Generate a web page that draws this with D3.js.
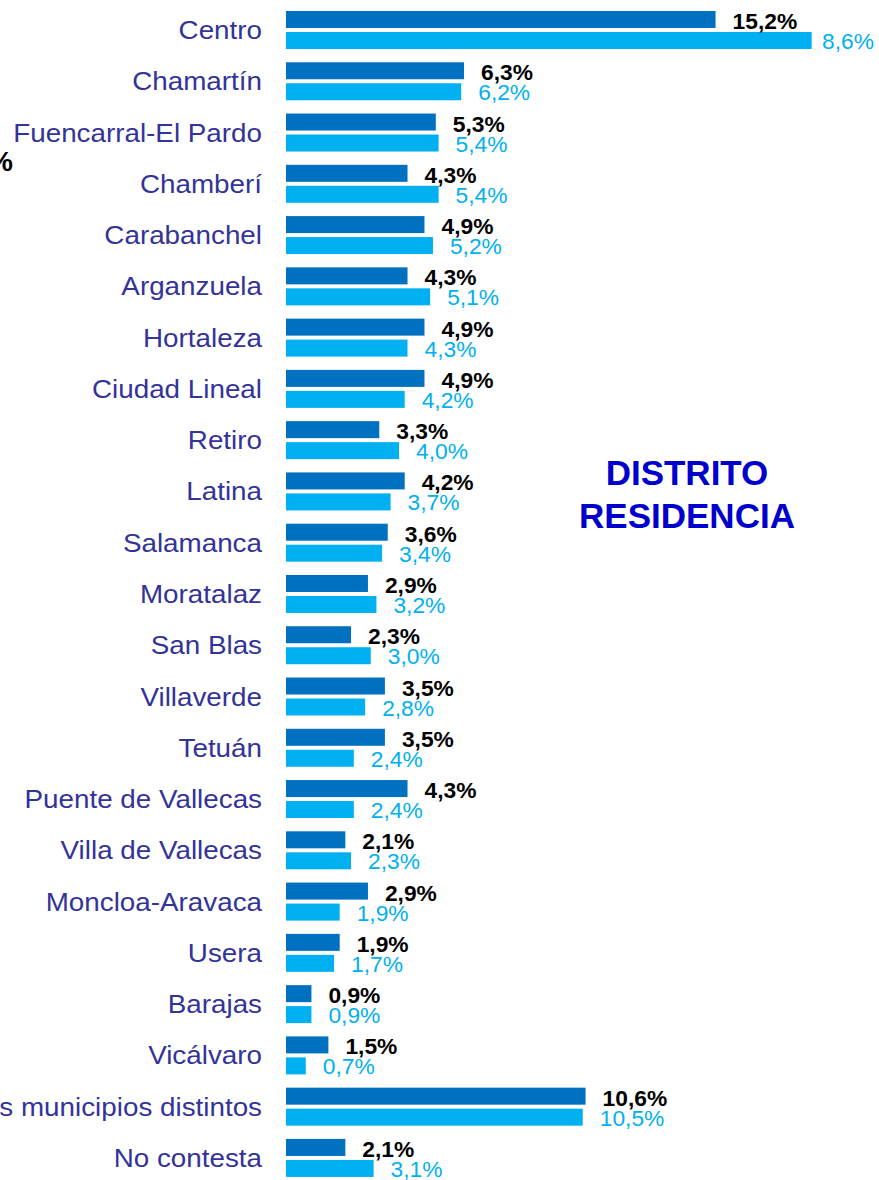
<!DOCTYPE html>
<html>
<head>
<meta charset="utf-8">
<script src="https://cdn.jsdelivr.net/npm/d3@7"></script>
<style>
  html, body { margin: 0; padding: 0; background: #fff; }
  svg { display: block; }
  text { font-family: "Liberation Sans", Arial, Helvetica, sans-serif; }
</style>
</head>
<body>
<svg id="chart" width="879" height="1180"></svg>
<script>
// ---- DATA ----
const categories = [
  "Centro", "Chamartín", "Fuencarral-El Pardo", "Chamberí", "Carabanchel",
  "Arganzuela", "Hortaleza", "Ciudad Lineal", "Retiro", "Latina", "Salamanca",
  "Moratalaz", "San Blas", "Villaverde", "Tetuán", "Puente de Vallecas",
  "Villa de Vallecas", "Moncloa-Aravaca", "Usera", "Barajas", "Vicálvaro",
  "Otros municipios distintos", "No contesta"
];
const seriesDark = [15.2, 6.3, 5.3, 4.3, 4.9, 4.3, 4.9, 4.9, 3.3, 4.2, 3.6,
  2.9, 2.3, 3.5, 3.5, 4.3, 2.1, 2.9, 1.9, 0.9, 1.5, 10.6, 2.1];
const seriesLight = [18.6, 6.2, 5.4, 5.4, 5.2, 5.1, 4.3, 4.2, 4.0, 3.7, 3.4,
  3.2, 3.0, 2.8, 2.4, 2.4, 2.3, 1.9, 1.7, 0.9, 0.7, 10.5, 3.1];
// value labels as printed in the picture
const labelsDark = ["15,2%", "6,3%", "5,3%", "4,3%", "4,9%", "4,3%", "4,9%", "4,9%",
  "3,3%", "4,2%", "3,6%", "2,9%", "2,3%", "3,5%", "3,5%", "4,3%", "2,1%", "2,9%",
  "1,9%", "0,9%", "1,5%", "10,6%", "2,1%"];
const labelsLight = ["8,6%", "6,2%", "5,4%", "5,4%", "5,2%", "5,1%", "4,3%", "4,2%",
  "4,0%", "3,7%", "3,4%", "3,2%", "3,0%", "2,8%", "2,4%", "2,4%", "2,3%", "1,9%",
  "1,7%", "0,9%", "0,7%", "10,5%", "3,1%"];
const titleLines = ["DISTRITO", "RESIDENCIA"];
const seriesKeys = ["dark", "light"];

// ---- LAYOUT ----
const svg = d3.select("#chart");
const colors = { dark: "#0070C0", light: "#00B0F0" };
const catColor = "#333399";

const step = 51.27, pIn = 0.259;
const yTop = 11 - step * pIn / 2;
const y = d3.scaleBand()
  .domain(categories)
  .range([yTop, yTop + categories.length * step])
  .paddingInner(pIn)
  .paddingOuter(pIn / 2);

const ySub = d3.scaleBand()
  .domain(seriesKeys)
  .range([0, y.bandwidth()])
  .paddingInner(0.19);

const x = d3.scaleLinear().domain([0, 10]).range([286, 286 + 282.6]);

const rows = categories.map((c, i) => ({
  cat: c,
  values: [
    { key: "dark", v: seriesDark[i], label: labelsDark[i] },
    { key: "light", v: seriesLight[i], label: labelsLight[i] }
  ]
}));

const g = svg.append("g");
const row = g.selectAll("g.row").data(rows).join("g")
  .attr("class", "row")
  .attr("transform", d => `translate(0,${y(d.cat)})`);

row.selectAll("rect").data(d => d.values).join("rect")
  .attr("x", x(0))
  .attr("y", d => ySub(d.key))
  .attr("width", d => x(d.v) - x(0))
  .attr("height", ySub.bandwidth())
  .attr("fill", d => colors[d.key]);

const labelX = d => Math.min(x(d.v) + 17, 822);
row.selectAll("text.val").data(d => d.values).join("text")
  .attr("class", "val")
  .attr("transform", d => `translate(${labelX(d)},${ySub(d.key) + ySub.bandwidth() + (d.key === "dark" ? 1 : 0)}) scale(1.06,1)`)
  .attr("font-size", 21.5)
  .attr("font-weight", d => d.key === "dark" ? "bold" : "normal")
  .attr("fill", d => d.key === "dark" ? "#000" : colors.light)
  .text(d => d.label);

// category axis labels
row.append("text")
  .attr("transform", d => `translate(262,${y.bandwidth() / 2 + 9}) scale(1.07,1)`)
  .attr("text-anchor", "end")
  .attr("font-size", 26)
  .attr("fill", catColor)
  .text(d => d.cat);

// stray clipped label at the left edge
svg.append("text")
  .attr("x", 13).attr("y", 171)
  .attr("text-anchor", "end")
  .attr("font-size", 28)
  .attr("font-weight", "bold")
  .attr("fill", "#000")
  .text("%");

// title
svg.selectAll("text.title").data(titleLines).join("text")
  .attr("class", "title")
  .attr("x", 687)
  .attr("y", (d, i) => 485 + i * 43)
  .attr("text-anchor", "middle")
  .attr("font-size", 35)
  .attr("font-weight", "bold")
  .attr("fill", "#0000CC")
  .text(d => d);
</script>
</body>
</html>
